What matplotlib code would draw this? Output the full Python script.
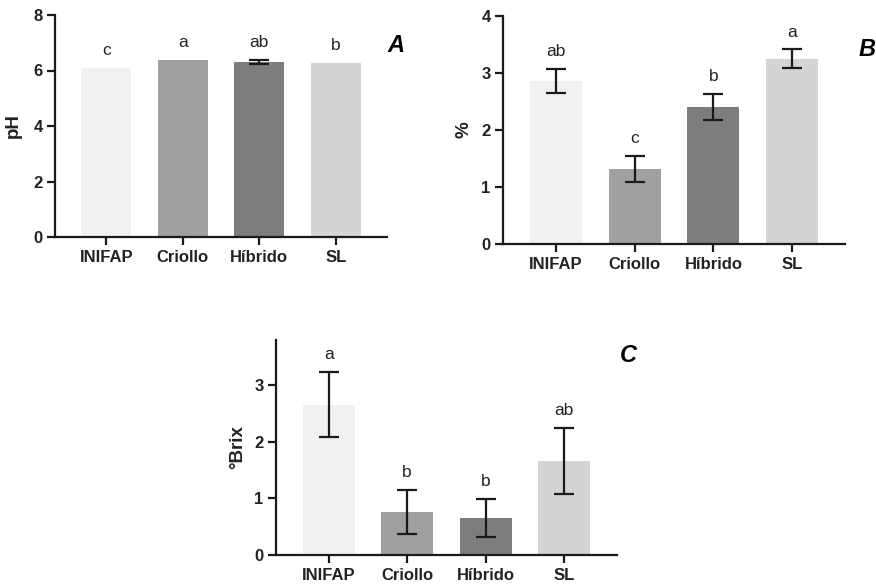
import matplotlib
matplotlib.use("Agg")
import matplotlib.pyplot as plt
import numpy as np

plt.rcParams['font.family'] = ['Liberation Sans', 'DejaVu Sans']

categories = ["INIFAP", "Criollo", "Híbrido", "SL"]
colors = ["#f1f1f1", "#a0a0a3", "#7d7d7d", "#d4d4d4"]

ph_mean = [6.08, 6.38, 6.31, 6.27]
ph_err = [0.0, 0.0, 0.08, 0.0]
ph_letters = ["c", "a", "ab", "b"]

pct_mean = [2.85, 1.32, 2.40, 3.25]
pct_err = [0.21, 0.23, 0.235, 0.16]
pct_letters = ["ab", "c", "b", "a"]

brix_mean = [2.66, 0.76, 0.65, 1.66]
brix_err = [0.58, 0.385, 0.335, 0.58]
brix_letters = ["a", "b", "b", "ab"]

W, H = 876, 585
fig = plt.figure(figsize=(W/100, H/100), dpi=100)

def ax_px(l, r, b, t):
    return fig.add_axes([l/W, 1-b/H, (r-l)/W, (b-t)/H])

def panel(ax, mean, err, letters, ylim, yticks, ylabel, tag, tagpos, labelpad):
    x = np.arange(len(categories))
    ax.bar(x, mean, width=0.66, color=colors, edgecolor='none', zorder=1)
    err = np.array(err)
    mean = np.array(mean)
    m = err > 0
    ax.errorbar(x[m], mean[m], yerr=err[m], fmt='none', ecolor='#1a1a1a',
                elinewidth=1.6, capsize=7.5, capthick=1.6, zorder=3)
    for xi, mi, ei, lt in zip(x, mean, err, letters):
        ax.annotate(lt, (xi, mi + ei), xytext=(0, 12.5), textcoords='offset points',
                    ha='center', va='center', fontsize=12.5, color='#222222')
    ax.set_xlim(-0.67, 3.67)
    ax.set_ylim(*ylim)
    ax.set_yticks(yticks)
    ax.set_xticks(x)
    ax.set_xticklabels(categories, fontweight='bold', fontsize=12, color='#222222')
    for lab in ax.get_yticklabels():
        lab.set_fontweight('bold'); lab.set_fontsize(12); lab.set_color('#222222')
    ax.set_ylabel(ylabel, fontweight='bold', fontsize=13.5, color='#222222', labelpad=labelpad)
    for s in ['top', 'right']:
        ax.spines[s].set_visible(False)
    for s in ['left', 'bottom']:
        ax.spines[s].set_linewidth(1.6)
        ax.spines[s].set_color('#1a1a1a')
    ax.tick_params(axis='both', width=1.6, length=6, color='#1a1a1a', pad=3)
    fig.text(tagpos[0]/W, 1-tagpos[1]/H, tag, fontsize=17, fontweight='bold',
             fontstyle='italic', ha='center', va='center')

axA = ax_px(55, 387, 237, 15)
panel(axA, ph_mean, ph_err, ph_letters, (0, 8), [0, 2, 4, 6, 8], "pH", "A", (396, 45), 8)

axB = ax_px(503, 845, 244, 15.7)
panel(axB, pct_mean, pct_err, pct_letters, (0, 4), [0, 1, 2, 3, 4], "%", "B", (867, 50), 6)

axC = ax_px(276, 617, 555, 340)
panel(axC, brix_mean, brix_err, brix_letters, (0, 3.8), [0, 1, 2, 3], "°Brix", "C", (628, 355), 6)

fig.savefig("out.png", dpi=100)
